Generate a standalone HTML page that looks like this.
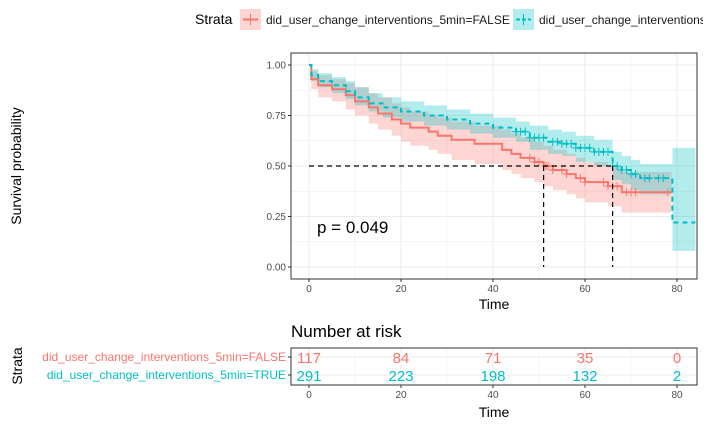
<!DOCTYPE html>
<html><head><meta charset="utf-8">
<style>
body{margin:0;background:#fff;font-family:"Liberation Sans",sans-serif}
svg text{font-family:"Liberation Sans",sans-serif}
</style></head>
<body>
<svg id="chart" width="726" height="428" xmlns="http://www.w3.org/2000/svg">
<g>
<text x="195" y="24" font-size="14" fill="#000">Strata</text>
<rect x="240" y="9" width="21" height="21" fill="#f8766d" fill-opacity="0.3"/>
<line x1="243" y1="19.5" x2="258" y2="19.5" stroke="#f8766d" stroke-width="2"/>
<line x1="250.5" y1="14" x2="250.5" y2="25" stroke="#f8766d" stroke-width="1"/>
<text x="266" y="24" font-size="12" fill="#1a1a1a">did_user_change_interventions_5min=FALSE</text>
<rect x="513" y="9" width="21" height="21" fill="#00bfc4" fill-opacity="0.3"/>
<line x1="516" y1="19.5" x2="531" y2="19.5" stroke="#00bfc4" stroke-width="2" stroke-dasharray="4,2"/>
<line x1="523.5" y1="14" x2="523.5" y2="25" stroke="#00bfc4" stroke-width="1"/>
<text x="539" y="24" font-size="12" fill="#1a1a1a">did_user_change_interventions_5min=TRUE</text>
<rect x="703" y="0" width="23" height="40" fill="#fff"/>
</g>
<g id="main"></g>
<g id="risk"></g>
</svg>
<script>
const ticksX=[0,20,40,60,80];
const ticksY=[0,0.25,0.5,0.75,1];
const tickLabelsY=["0.00","0.25","0.50","0.75","1.00"];
// red (FALSE) step curve
const tF=[0,0.5,2,5,8,10,13,15,18,20,22,26,28,31,36,42,44,46,49,51,53,56,58,60,65,68,78.8];
const sF=[1,0.93,0.9,0.88,0.85,0.82,0.79,0.76,0.73,0.71,0.69,0.67,0.65,0.63,0.61,0.58,0.56,0.54,0.52,0.5,0.48,0.46,0.44,0.42,0.4,0.37,0.37];
const loF=[1,0.88,0.84,0.82,0.78,0.75,0.71,0.68,0.65,0.62,0.6,0.58,0.56,0.53,0.51,0.48,0.46,0.44,0.42,0.4,0.38,0.36,0.34,0.32,0.3,0.27,0.27];
const hiF=[1,0.97,0.95,0.93,0.91,0.89,0.86,0.84,0.81,0.79,0.77,0.75,0.74,0.72,0.7,0.68,0.66,0.64,0.62,0.6,0.58,0.56,0.54,0.52,0.5,0.47,0.47];
const cenF=[48,49,50,51.5,52,53,55,56,59,60,64,65,66,67,69,70,71,78];
// teal (TRUE) step curve
const tT=[0,0.5,2,5,8,10,13,16,20,25,30,35,40,45,48,52,55,58,62,66,68,70,72,79,84];
const sT=[1,0.95,0.92,0.9,0.87,0.84,0.81,0.79,0.77,0.75,0.73,0.71,0.69,0.67,0.64,0.62,0.61,0.59,0.57,0.5,0.48,0.46,0.44,0.22,0.22];
const loT=[1,0.92,0.89,0.86,0.83,0.8,0.77,0.74,0.72,0.7,0.68,0.66,0.64,0.62,0.58,0.56,0.55,0.52,0.5,0.43,0.41,0.38,0.36,0.08,0.08];
const hiT=[1,0.98,0.96,0.94,0.92,0.89,0.86,0.84,0.82,0.8,0.78,0.76,0.74,0.72,0.7,0.68,0.67,0.65,0.63,0.57,0.55,0.53,0.51,0.59,0.59];
const cenT=[45,46,47,48,49,50,51,53,54,55,56,57,58,59,60,61,62,63,64,65,66,67,68,69,70,71,73,74,76,77];
const riskTimes=[0,20,40,60,80];
const riskF=[117,84,71,35,0];
const riskT=[291,223,198,132,2];
const medianF=51, medianT=66;

const NS="http://www.w3.org/2000/svg";
const X0=291,X1=697,Y0=53,Y1=279;
const xs=t=>309+t*(677-309)/80;
const ys=v=>267-v*202;
function el(tag,attrs,parent){const e=document.createElementNS(NS,tag);for(const k in attrs)e.setAttribute(k,attrs[k]);parent.appendChild(e);return e;}
const main=document.getElementById('main');
el('rect',{x:X0,y:Y0,width:X1-X0,height:Y1-Y0,fill:'#fff'},main);
[10,30,50,70].forEach(t=>el('line',{x1:xs(t),x2:xs(t),y1:Y0,y2:Y1,stroke:'#ebebeb','stroke-width':0.5},main));
[0.125,0.375,0.625,0.875].forEach(v=>el('line',{x1:X0,x2:X1,y1:ys(v),y2:ys(v),stroke:'#ebebeb','stroke-width':0.5},main));
ticksX.forEach(t=>el('line',{x1:xs(t),x2:xs(t),y1:Y0,y2:Y1,stroke:'#ebebeb','stroke-width':1},main));
ticksY.forEach(v=>el('line',{x1:X0,x2:X1,y1:ys(v),y2:ys(v),stroke:'#ebebeb','stroke-width':1},main));
function stepPath(t,s){let d='M'+xs(t[0])+','+ys(s[0]);for(let i=1;i<t.length;i++){d+=' H'+xs(t[i])+' V'+ys(s[i]);}return d;}
function band(t,lo,hi){const n=t.length;let d='M'+xs(t[0])+','+ys(hi[0]);for(let i=1;i<n;i++)d+=' H'+xs(t[i])+' V'+ys(hi[i]);d+=' V'+ys(lo[n-1]);for(let i=n-1;i>0;i--)d+=' V'+ys(lo[i-1])+' H'+xs(t[i-1]);d+='Z';return d;}
function stepAt(t,s,x){let v=s[0];for(let i=0;i<t.length;i++)if(t[i]<=x)v=s[i];return v;}
const b1=el('path',{d:band(tF,loF,hiF),fill:'#f8766d','fill-opacity':0.3},main);


const b2=el('path',{d:band(tT,loT,hiT),fill:'#00bfc4','fill-opacity':0.3},main);


const l1=el('path',{d:stepPath(tF,sF),fill:'none',stroke:'#f8766d','stroke-width':2},main);


const l2=el('path',{d:stepPath(tT,sT),fill:'none',stroke:'#00bfc4','stroke-width':2,'stroke-dasharray':'5,4'},main);


cenF.forEach(c=>{const y=ys(stepAt(tF,sF,c));const m=el('path',{d:`M${xs(c)-4},${y}H${xs(c)+4}M${xs(c)},${y-4}V${y+4}`,stroke:'#f8766d','stroke-width':1},main);

});
cenT.forEach(c=>{const y=ys(stepAt(tT,sT,c));const m=el('path',{d:`M${xs(c)-4},${y}H${xs(c)+4}M${xs(c)},${y-4}V${y+4}`,stroke:'#00bfc4','stroke-width':1},main);

});
const md=el('path',{d:`M${xs(0)},${ys(0.5)}H${xs(medianT)}M${xs(medianF)},${ys(0.5)}V${ys(0)}M${xs(medianT)},${ys(0.5)}V${ys(0)}`,stroke:'#000','stroke-width':1.2,'stroke-dasharray':'5,4',fill:'none'},main);


el('rect',{x:X0,y:Y0,width:X1-X0,height:Y1-Y0,fill:'none',stroke:'#333','stroke-width':1},main);
const pv=el('text',{x:317,y:233,'font-size':17,fill:'#000'},main);pv.textContent='p = 0.049';


ticksY.forEach((v,i)=>{el('line',{x1:X0-3,x2:X0,y1:ys(v),y2:ys(v),stroke:'#333'},main);
const t=el('text',{x:X0-5,y:ys(v)+3.5,'font-size':10,fill:'#4d4d4d','text-anchor':'end'},main);t.textContent=tickLabelsY[i];

});
ticksX.forEach(v=>{el('line',{x1:xs(v),x2:xs(v),y1:Y1,y2:Y1+3,stroke:'#333'},main);
const t=el('text',{x:xs(v),y:Y1+13,'font-size':10,fill:'#4d4d4d','text-anchor':'middle'},main);t.textContent=v;

});
const xt=el('text',{x:494,y:309,'font-size':14,fill:'#000','text-anchor':'middle'},main);xt.textContent='Time';


const yt=el('text',{x:0,y:0,'font-size':14,fill:'#000','text-anchor':'middle',transform:'translate(21,166) rotate(-90)'},main);yt.textContent='Survival probability';


const risk=document.getElementById('risk');
const RY0=348,RY1=385;
const rt=el('text',{x:291,y:337,'font-size':17,fill:'#000'},risk);rt.textContent='Number at risk';


el('rect',{x:X0,y:RY0,width:X1-X0,height:RY1-RY0,fill:'#fff'},risk);
[10,30,50,70].forEach(t=>el('line',{x1:xs(t),x2:xs(t),y1:RY0,y2:RY1,stroke:'#ebebeb','stroke-width':0.5},risk));
ticksX.forEach(t=>el('line',{x1:xs(t),x2:xs(t),y1:RY0,y2:RY1,stroke:'#ebebeb'},risk));
[357,375].forEach(y=>el('line',{x1:X0,x2:X1,y1:y,y2:y,stroke:'#ebebeb'},risk));
riskTimes.forEach((t,i)=>{
const a=el('text',{x:xs(t),y:363,'font-size':15,fill:'#f8766d','text-anchor':'middle'},risk);a.textContent=riskF[i];


const b=el('text',{x:xs(t),y:381,'font-size':15,fill:'#00bfc4','text-anchor':'middle'},risk);b.textContent=riskT[i];


el('line',{x1:xs(t),x2:xs(t),y1:RY1,y2:RY1+3,stroke:'#333'},risk);
const tl=el('text',{x:xs(t),y:RY1+13,'font-size':10,fill:'#4d4d4d','text-anchor':'middle'},risk);tl.textContent=t;

});
el('rect',{x:X0,y:RY0,width:X1-X0,height:RY1-RY0,fill:'none',stroke:'#333'},risk);
[357,375].forEach(y=>el('line',{x1:X0-3,x2:X0,y1:y,y2:y,stroke:'#333'},risk));
const sl1=el('text',{x:X0-5,y:361,'font-size':12,fill:'#f8766d','text-anchor':'end'},risk);sl1.textContent='did_user_change_interventions_5min=FALSE';


const sl2=el('text',{x:X0-5,y:379,'font-size':12,fill:'#00bfc4','text-anchor':'end'},risk);sl2.textContent='did_user_change_interventions_5min=TRUE';


const st=el('text',{x:0,y:0,'font-size':14,fill:'#000','text-anchor':'middle',transform:'translate(22,366) rotate(-90)'},risk);st.textContent='Strata';


const rx=el('text',{x:494,y:417,'font-size':14,fill:'#000','text-anchor':'middle'},risk);rx.textContent='Time';


</script>
</body></html>
